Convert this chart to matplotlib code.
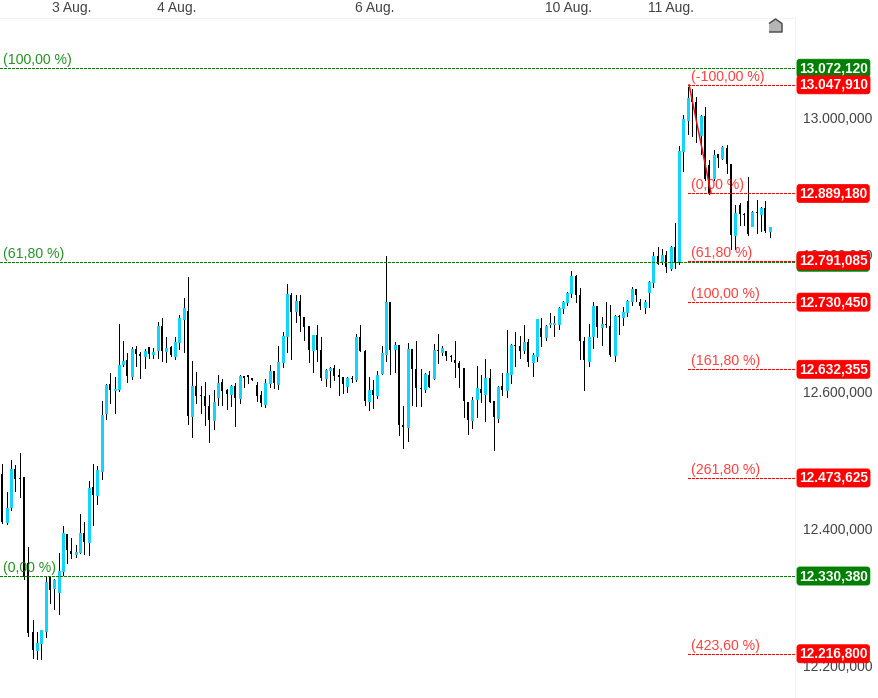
import matplotlib
matplotlib.use("Agg")
import matplotlib.pyplot as plt
from matplotlib.ticker import FixedLocator, FuncFormatter

# ===== DATA =====
opens = [
    12.4794, 12.4098, 12.4307, 12.4862, 12.4731, 12.4745, 12.3489, 12.2486, 12.2223, 12.2330,
    12.2505, 12.3294, 12.3133, 12.3075, 12.3382, 12.3913, 12.3669, 12.3625, 12.3659, 12.3927,
    12.3805, 12.4599, 12.4487, 12.4843, 12.5680, 12.6104, 12.6026, 12.6035, 12.6396, 12.6459,
    12.6225, 12.6625, 12.6547, 12.6518, 12.6644, 12.6547, 12.6605, 12.6956, 12.6590, 12.6644,
    12.6518, 12.6722, 12.7058, 12.7180, 12.5646, 12.6079, 12.5948, 12.5933, 12.5787, 12.5583,
    12.5919, 12.6138, 12.6021, 12.5962, 12.6079, 12.5904, 12.6220, 12.6235, 12.6196, 12.6094,
    12.5948, 12.5816, 12.6123, 12.6298, 12.6108, 12.6430, 12.6810, 12.7409, 12.7175, 12.7326,
    12.7087, 12.6956, 12.6605, 12.6824, 12.6605, 12.6196, 12.6313, 12.6342, 12.6240, 12.6210,
    12.6079, 12.6196, 12.6181, 12.6800, 12.6595, 12.5860, 12.6021, 12.5948, 12.6269, 12.6547,
    12.7306, 12.6620, 12.6678, 12.5509, 12.5480, 12.6619, 12.6327, 12.6050, 12.6035, 12.6240,
    12.6196, 12.6605, 12.6576, 12.6590, 12.6517, 12.6459, 12.6415, 12.6342, 12.5845, 12.5582,
    12.5889, 12.6035, 12.5962, 12.6196, 12.5860, 12.5612, 12.6079, 12.6021, 12.6254, 12.6678,
    12.6663, 12.6605, 12.6722, 12.6430, 12.6517, 12.6926, 12.6795, 12.6990, 12.6990, 12.6985,
    12.7219, 12.7306, 12.7438, 12.7686, 12.7408, 12.6736, 12.6444, 12.6809, 12.7248, 12.6941,
    12.6985, 12.6956, 12.6532, 12.7102, 12.7087, 12.7160, 12.7321, 12.7496, 12.7306, 12.7233,
    12.7452, 12.7598, 12.7978, 12.7905, 12.7993, 12.7803, 12.8110, 12.7904, 12.9511, 12.9964,
    13.0286, 13.0232, 12.9745, 13.0023, 12.9307, 12.9117, 12.9468, 12.9409, 12.9555, 12.9322,
    12.8284, 12.8723, 12.8591, 12.8776, 12.8416, 12.8620, 12.8591, 12.8679, 12.8343,
]
closes = [
    12.4098, 12.4297, 12.4862, 12.4716, 12.4721, 12.3294, 12.2476, 12.2223, 12.2320, 12.2515,
    12.3216, 12.3099, 12.3245, 12.3372, 12.3927, 12.3684, 12.3625, 12.3654, 12.3927, 12.3800,
    12.4589, 12.4482, 12.4852, 12.5656, 12.6094, 12.6021, 12.6035, 12.6386, 12.6444, 12.6225,
    12.6620, 12.6547, 12.6518, 12.6590, 12.6547, 12.6576, 12.6961, 12.6590, 12.6634, 12.6537,
    12.6722, 12.7073, 12.7219, 12.5646, 12.6079, 12.5933, 12.5938, 12.5787, 12.5583, 12.5845,
    12.6123, 12.6006, 12.5962, 12.6079, 12.5904, 12.6225, 12.6196, 12.6206, 12.6167, 12.5933,
    12.5831, 12.6123, 12.6298, 12.6123, 12.6430, 12.6810, 12.7423, 12.7165, 12.7326, 12.7102,
    12.6941, 12.6605, 12.6824, 12.6605, 12.6196, 12.6313, 12.6342, 12.6225, 12.6210, 12.6108,
    12.6196, 12.6186, 12.6795, 12.6586, 12.5860, 12.6021, 12.5948, 12.6240, 12.6561, 12.7306,
    12.6605, 12.6678, 12.5509, 12.5485, 12.6619, 12.6327, 12.6050, 12.6035, 12.6254, 12.6064,
    12.6605, 12.6590, 12.6639, 12.6517, 12.6508, 12.6415, 12.6342, 12.5860, 12.5582, 12.5874,
    12.6050, 12.5977, 12.6196, 12.5845, 12.5626, 12.6064, 12.6021, 12.6269, 12.6678, 12.6663,
    12.6590, 12.6722, 12.6430, 12.6532, 12.7058, 12.6795, 12.6956, 12.7000, 12.7000, 12.7219,
    12.7306, 12.7438, 12.7686, 12.7408, 12.6736, 12.6459, 12.6795, 12.7248, 12.6941, 12.6985,
    12.6970, 12.6532, 12.7102, 12.7087, 12.7160, 12.7321, 12.7496, 12.7408, 12.7248, 12.7306,
    12.7598, 12.7978, 12.7861, 12.7993, 12.7817, 12.8110, 12.7890, 12.9511, 12.9979, 13.0286,
    13.0227, 13.0023, 13.0023, 12.9102, 12.8883, 12.9453, 12.9409, 12.9570, 12.9322, 12.8284,
    12.8601, 12.8591, 12.8581, 12.8299, 12.8620, 12.8606, 12.8679, 12.8343, 12.8401,
]
highs = [
    12.4940, 12.4531, 12.4999, 12.4926, 12.5096, 12.4755, 12.3732, 12.2661, 12.2486, 12.2515,
    12.3294, 12.3304, 12.3255, 12.3635, 12.4034, 12.3913, 12.3859, 12.3757, 12.4209, 12.4093,
    12.4692, 12.4940, 12.4911, 12.5865, 12.6108, 12.6274, 12.6216, 12.6985, 12.6737, 12.6556,
    12.6644, 12.6664, 12.6576, 12.6620, 12.6644, 12.6630, 12.7019, 12.7068, 12.6795, 12.6664,
    12.6795, 12.7117, 12.7360, 12.7667, 12.6444, 12.6284, 12.6079, 12.6138, 12.5948, 12.6021,
    12.6235, 12.6181, 12.6031, 12.6094, 12.6123, 12.6240, 12.6225, 12.6240, 12.6196, 12.6138,
    12.6006, 12.6181, 12.6386, 12.6298, 12.6664, 12.6868, 12.7570, 12.7443, 12.7409, 12.7409,
    12.7087, 12.6956, 12.6824, 12.6970, 12.6795, 12.6327, 12.6357, 12.6386, 12.6327, 12.6210,
    12.6215, 12.6225, 12.6839, 12.6970, 12.6605, 12.6210, 12.6167, 12.6298, 12.6663, 12.7978,
    12.7306, 12.6722, 12.6678, 12.5787, 12.6707, 12.6619, 12.6737, 12.6327, 12.6269, 12.6298,
    12.6693, 12.6839, 12.6663, 12.6590, 12.6532, 12.6737, 12.6444, 12.6342, 12.5845, 12.5918,
    12.6371, 12.6240, 12.6474, 12.6327, 12.5860, 12.6079, 12.6269, 12.6897, 12.6693, 12.6868,
    12.6809, 12.6970, 12.6766, 12.6561, 12.7058, 12.7072, 12.6970, 12.7145, 12.7102, 12.7233,
    12.7321, 12.7452, 12.7759, 12.7700, 12.7511, 12.6795, 12.6985, 12.7306, 12.7248, 12.7087,
    12.7306, 12.7262, 12.7116, 12.7116, 12.7233, 12.7335, 12.7525, 12.7496, 12.7350, 12.7335,
    12.7613, 12.8037, 12.8110, 12.8080, 12.8051, 12.8124, 12.8455, 12.9585, 13.0037, 13.0451,
    13.0412, 13.0300, 13.0037, 13.0154, 12.9380, 12.9526, 12.9468, 12.9585, 12.9599, 12.9322,
    12.8723, 12.8747, 12.8601, 12.9136, 12.8635, 12.8796, 12.8693, 12.8781, 12.8401,
]
lows = [
    12.4073, 12.4064, 12.4268, 12.4551, 12.4463, 12.3265, 12.2427, 12.2111, 12.2096, 12.2096,
    12.2418, 12.2914, 12.2826, 12.2749, 12.3318, 12.3499, 12.3567, 12.3586, 12.3635, 12.3625,
    12.3611, 12.4054, 12.4356, 12.4726, 12.5602, 12.5836, 12.5690, 12.6011, 12.6371, 12.6143,
    12.6186, 12.6371, 12.6201, 12.6347, 12.6483, 12.6488, 12.6493, 12.6449, 12.6435, 12.6518,
    12.6474, 12.6615, 12.6581, 12.5524, 12.5339, 12.5836, 12.5690, 12.5509, 12.5266, 12.5456,
    12.5807, 12.5802, 12.5748, 12.5787, 12.5500, 12.5831, 12.6065, 12.6118, 12.6167, 12.5865,
    12.5787, 12.5772, 12.6065, 12.6055, 12.6035, 12.6357, 12.6576, 12.6474, 12.7014, 12.6887,
    12.6751, 12.6430, 12.6284, 12.6444, 12.6167, 12.6079, 12.6064, 12.6167, 12.5948, 12.5977,
    12.5991, 12.6137, 12.6152, 12.6586, 12.5801, 12.5728, 12.5758, 12.5904, 12.6254, 12.6444,
    12.6254, 12.6284, 12.5363, 12.5173, 12.5275, 12.5801, 12.5787, 12.5787, 12.5991, 12.6064,
    12.6181, 12.6415, 12.6532, 12.6459, 12.6444, 12.6210, 12.6064, 12.5626, 12.5378, 12.5465,
    12.5626, 12.5845, 12.5568, 12.5845, 12.5144, 12.5553, 12.5948, 12.5918, 12.6123, 12.6371,
    12.6488, 12.6561, 12.6371, 12.6225, 12.6444, 12.6663, 12.6751, 12.6941, 12.6809, 12.6912,
    12.7145, 12.7262, 12.7379, 12.7306, 12.6473, 12.6021, 12.6371, 12.6634, 12.6795, 12.6678,
    12.6941, 12.6517, 12.6444, 12.6839, 12.6970, 12.7102, 12.7262, 12.7321, 12.7204, 12.7145,
    12.7233, 12.7525, 12.7861, 12.7861, 12.7744, 12.7774, 12.7803, 12.7860, 12.9219, 12.9760,
    12.9731, 12.9643, 12.9468, 12.9088, 12.8883, 12.9088, 12.9283, 12.9395, 12.9185, 12.8080,
    12.8080, 12.8430, 12.8430, 12.8284, 12.8416, 12.8309, 12.8343, 12.8328, 12.8255,
]

day_pos = [16.1, 40.3, 86.4, 131.4, 155.1]
day_labels = ["3 Aug.", "4 Aug.", "6 Aug.", "10 Aug.", "11 Aug."]
axis_prices = [13.0, 12.8, 12.6, 12.4, 12.2]

# fib levels, first group runs the whole width, second one starts at the swing high
green_levels = [13.07212, 12.78878, 12.33038]
green_names = ["(100,00 %)", "(61,80 %)", "(0,00 %)"]
red_levels = [13.04791, 12.88918, 12.791085, 12.73045, 12.632355, 12.473625, 12.2168]
red_names = ["(-100,00 %)", "(0,00 %)", "(61,80 %)", "(100,00 %)",
             "(161,80 %)", "(261,80 %)", "(423,60 %)"]
swing_x = [159.3, 164.4]
swing_y = [13.04791, 12.88918]
fib_start = 159.0


def euro(v):
    # axis is in thousands: 13.072,120
    return f"{v * 1000:,.3f}".replace(",", "#").replace(".", ",").replace("#", ".")


# ===== STYLE =====
plt.rcParams['font.family'] = ['Liberation Sans', 'DejaVu Sans']
CYAN = "#12d5ff"
RED = "#ff0000"
GREEN = "#008000"
PX = 72 / 100

fig = plt.figure(figsize=(8.79, 6.98), dpi=100)
ax = fig.add_axes([0, 0, 795 / 879, 680 / 698])
ax.set_xlim(-0.58, 183.87)
ax.set_ylim(12.1522, 13.1455)

# ===== CANDLES =====
idx = list(range(len(opens)))
up = [i for i in idx if closes[i] >= opens[i]]
down = [i for i in idx if closes[i] < opens[i]]
ax.vlines(idx, lows, highs, color="black", lw=1 * PX, antialiased=False,
          capstyle="butt", zorder=2)
ax.vlines(down, [closes[i] for i in down], [opens[i] for i in down], color="black",
          lw=2 * PX, antialiased=False, capstyle="butt", zorder=2.1)
ax.vlines(up, [opens[i] for i in up], [closes[i] for i in up], color=CYAN,
          lw=3 * PX, antialiased=False, capstyle="butt", zorder=2.2)

# ===== FIB LEVELS =====
dots = (0, (2.9, 1.4))
ax.hlines(green_levels, -0.58, 183.87, color=GREEN, lw=1 * PX, linestyles=[dots],
          antialiased=False, zorder=3)
ax.hlines(red_levels, fib_start, 183.87, color=RED, lw=1 * PX, linestyles=[dots],
          antialiased=False, zorder=3)
ax.plot(swing_x, swing_y, color="#e81010", lw=1.5 * PX, zorder=3)

for lev, name in zip(green_levels, green_names):
    ax.annotate(name, (3 / 795, lev), xycoords=("axes fraction", "data"), xytext=(0, 8 * PX),
                textcoords="offset points", va="center", ha="left", fontsize=10.2,
                color=GREEN, alpha=0.85, zorder=4)
for lev, name in zip(red_levels, red_names):
    ax.annotate(name, (fib_start + 0.8, lev), xytext=(0, 8 * PX),
                textcoords="offset points", va="center", ha="left", fontsize=10.2,
                color=RED, alpha=0.75, zorder=4)


# ===== PRICE BOXES =====
def price_box(lev, col):
    ax.annotate(euro(lev), (1.0, lev), xycoords=("axes fraction", "data"), xytext=(4 * PX, 0),
                textcoords="offset points", va="center", ha="left", fontsize=9.9, color="white",
                fontweight="bold", annotation_clip=False, zorder=5,
                bbox=dict(boxstyle="round,pad=0.15,rounding_size=0.2", fc=col, ec=col, lw=0.5))


for lev in green_levels:
    price_box(lev, GREEN)
for lev in red_levels:
    price_box(lev, RED)

# ===== AXES =====
ax.xaxis.tick_top()
ax.set_xticks(day_pos, day_labels)
ax.yaxis.tick_right()
ax.yaxis.set_major_locator(FixedLocator(axis_prices))
ax.yaxis.set_major_formatter(FuncFormatter(lambda v, _: euro(v)))
ax.tick_params(axis="x", length=0, pad=2.5, labelsize=10, labelcolor="#444444")
ax.tick_params(axis="y", length=0, pad=6, labelsize=10, labelcolor="#444444")
for side in ["left", "bottom"]:
    ax.spines[side].set_visible(False)
for side in ["top", "right"]:
    ax.spines[side].set_color("#f2f2f2")
    ax.spines[side].set_linewidth(1 * PX)

# reset-view button in the top corner
house = [(-1, -1), (1, -1), (1, 0.3), (0, 1), (-1, 0.3)]
ax.plot([0.9748], [0.9897], transform=ax.transAxes, marker=house, ms=13 * PX,
        mfc="#b5b5b5", mec="#444444", mew=1, clip_on=False, zorder=5)

fig.savefig("out.png", dpi=100)
